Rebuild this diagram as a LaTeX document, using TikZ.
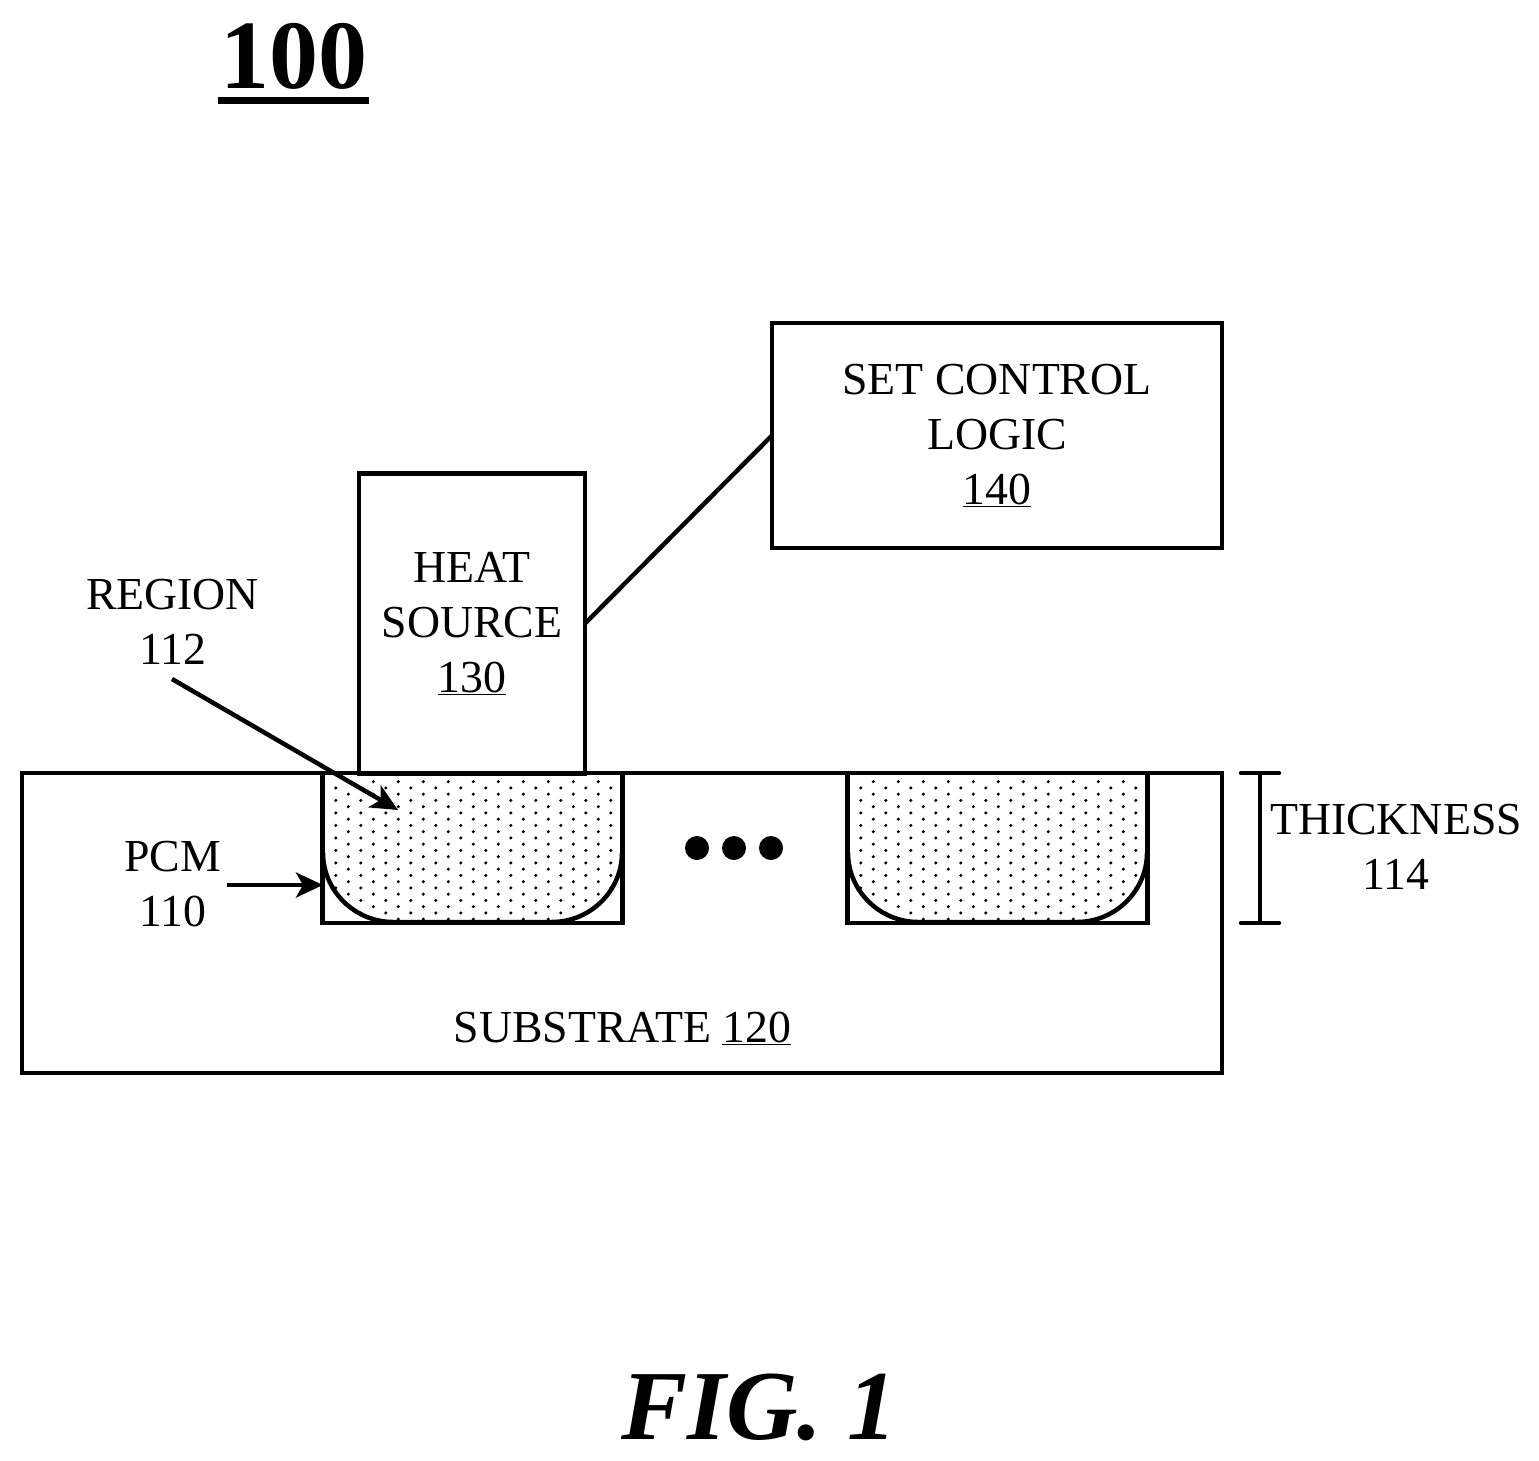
\documentclass[tikz,border=0pt]{standalone}
\usepackage{fontspec}
\setmainfont{Liberation Serif}
\usetikzlibrary{arrows.meta}
\tikzset{
  box/.style={rectangle, draw, line width=4.5pt, minimum width=#1, inner sep=0pt, outer sep=0pt, align=center, font=\fontsize{45.8}{55}\selectfont},
  lbl/.style={inner sep=0pt, align=center, font=\fontsize{45.8}{55}\selectfont},
  line/.style={line width=4.5pt},
  arrow/.style={line width=4.5pt, -{Stealth[length=27pt, width=25pt, inset=7pt]}},
  dot/.style={circle, fill, inner sep=0pt, minimum size=24pt}
}
\begin{document}
\begin{tikzpicture}[x=1pt, y=-1pt]
        \useasboundingbox (0,0) rectangle (1539,1461);
        \node[box=1200pt, minimum height=300pt] (substrate) at (622,923){};
        \node[box=226pt, minimum height=300pt] (heat) at (472,623.5){HEAT\\SOURCE\\\underline{130}};
        \node[box=450pt, minimum height=225pt] (logic) at (997,435.5){SET CONTROL\\LOGIC\\\underline{140}};
        \node[box=300pt, minimum height=150pt] (trench1) at (472.5,848){};
        \node[box=300pt, minimum height=150pt] (trench2) at (997.5,848){};
        % dotted material in the two trenches
        \foreach \dx in {0,525} {
          \begin{scope}[xshift=\dx pt]
            \begin{scope}
              \clip (323,775) -- (323,853) .. controls (323,890) and (354,922) .. (393,922) -- (552,922) .. controls (591,922) and (622,890) .. (622,853) -- (622,775) -- cycle;
              \foreach \row in {0,2,...,22} {
                \foreach \col in {0,...,12} {
                  \fill (323.33+25*\col,781.67+6.25*\row) circle (1.7pt);
                  \fill (310.83+25*\col,787.92+6.25*\row) circle (1.7pt);
                }
              }
            \end{scope}
            \draw[line] (323,853) .. controls (323,890) and (354,922) .. (393,922) -- (552,922) .. controls (591,922) and (622,890) .. (622,853);
          \end{scope}
        }
        \draw[line] (heat.east) -- (logic.west);
        \node[dot] (d1) at (697,848){};
        \node[dot] (d2) at (734,848){};
        \node[dot] (d3) at (771,848){};
        \node[lbl] (sublbl) at (622.5,1028.5){SUBSTRATE \underline{120}};
        \node[lbl] (region) at (172.5,622){REGION\\112};
        \node[lbl] (pcm) at (172.5,884.5){PCM\\110};
        \node[lbl] (thick) at (1396,847){THICKNESS\\114};
        \coordinate (regionend) at (398,810);
        \coordinate (regionstart) at (172,679);
        \coordinate (pcmstart) at (227,885);
        \coordinate (pcmend) at (323,885);
        \draw[arrow] (regionstart) -- (regionend);
        \draw[arrow] (pcmstart) -- (pcmend);
        % thickness bracket
        \coordinate (t0) at (1260,773);
        \coordinate (t1) at (1260,923);
        \draw[line] (t0) -- (t1);
        \draw[line, line cap=round] (1241,773) -- (1279,773);
        \draw[line, line cap=round] (1241,923) -- (1279,923);
        \node[inner sep=0pt, font=\fontsize{98}{98}\bfseries\selectfont] (title) at (293.5,56.5){100};
        \draw[line width=7pt] (218,100.5) -- (369,100.5);
        \node[inner sep=0pt, font=\fontsize{99}{99}\bfseries\itshape\selectfont] (fig) at (759,1407){FIG. 1};
        \end{tikzpicture}
\end{document}
